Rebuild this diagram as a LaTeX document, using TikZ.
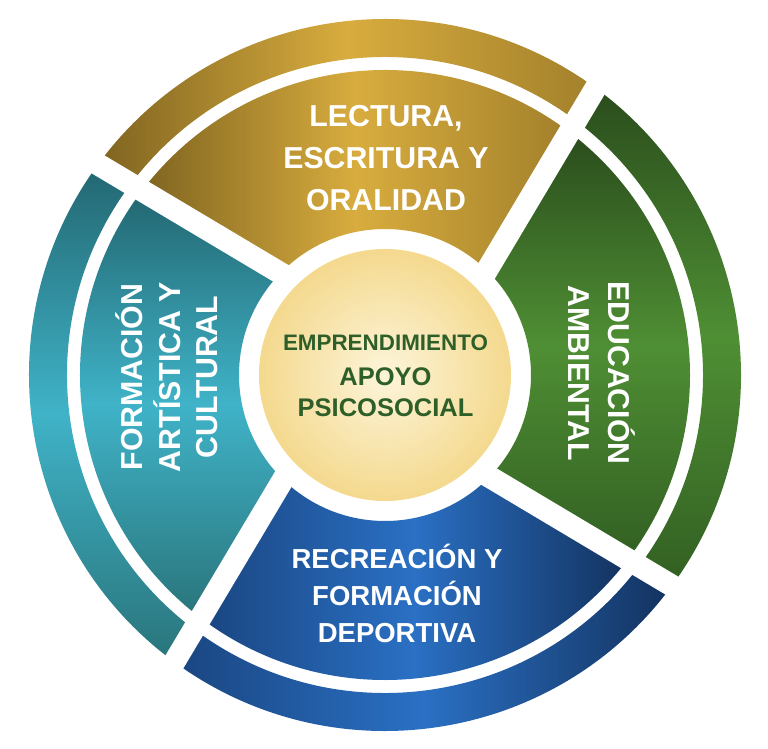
\documentclass[tikz,border=0pt]{standalone}
\usepackage{fontspec}
\setmainfont{Liberation Sans}

\definecolor{GoldDark}{HTML}{7F6420}
\definecolor{GoldLight}{HTML}{D8AC3E}
\definecolor{GoldMid}{HTML}{A2802B}
\definecolor{GreenDark}{HTML}{2A4C1C}
\definecolor{GreenLight}{HTML}{4F8F34}
\definecolor{GreenMid}{HTML}{325F22}
\definecolor{BlueDark}{HTML}{13325E}
\definecolor{BlueLight}{HTML}{2A70C4}
\definecolor{BlueMid}{HTML}{1A4580}
\definecolor{TealDark}{HTML}{226670}
\definecolor{TealLight}{HTML}{40B3C8}
\definecolor{TealMid}{HTML}{29747A}
\definecolor{CreamLight}{HTML}{FDF5DA}
\definecolor{CreamDark}{HTML}{F4D98E}
\definecolor{CenterText}{HTML}{2F5F29}

\newcommand{\gapoff}{34}
% one piece of a ring, cut by two of the swirl lines
\newcommand{\ringpart}[3]{({#1-90+acos(\gapoff/#2)}:#2) -- ({#1-90+acos(\gapoff/#3)}:#3)
  arc[start angle={#1-90+acos(\gapoff/#3)}, end angle={#1+acos(\gapoff/#3)}, radius=#3]
  -- ({#1+acos(\gapoff/#2)}:#2)
  arc[start angle={#1+acos(\gapoff/#2)}, end angle={#1-90+acos(\gapoff/#2)}, radius=#2] -- cycle}

\begin{document}
\begin{tikzpicture}[x=1pt,y=1pt]
\tikzstyle{every node}=[font=\bfseries, text=white]
\tikzstyle{gapline}=[white, line width=22pt]
\tikzstyle{bigtext}=[align=center, font=\fontsize{30.3}{42}\selectfont\bfseries]
\tikzstyle{goldpart}=[left color=GoldDark, right color=GoldMid, middle color=GoldLight]
\tikzstyle{tealpart}=[top color=TealDark, bottom color=TealMid, middle color=TealLight]
\tikzstyle{bluepart}=[left color=BlueMid, right color=BlueDark, middle color=BlueLight]
\tikzstyle{greenpart}=[top color=GreenDark, bottom color=GreenMid, middle color=GreenLight]

\useasboundingbox (-385,-374) rectangle (383,375);
\fill[white] (-385,-374) rectangle (383,375);
\coordinate (Center) at (0,0);

\shade[goldpart] \ringpart{59.2}{318}{356};
\shade[tealpart] \ringpart{149.2}{318}{356};
\shade[bluepart] \ringpart{239.2}{318}{356};
\shade[greenpart] \ringpart{329.2}{318}{356};

\shade[goldpart] \ringpart{59.2}{146}{305};
\shade[tealpart] \ringpart{149.2}{146}{305};
\shade[bluepart] \ringpart{239.2}{146}{305};
\shade[greenpart] \ringpart{329.2}{146}{305};

\foreach \a in {59.2,149.2,239.2,329.2}
  \draw[gapline] ({\a-90+acos(\gapoff/130)}:130) -- ({\a-90+acos(\gapoff/372)}:372);

\shade[inner color=CreamLight, outer color=CreamDark] (Center) circle (126);

\node[bigtext] (LecturaText) at (1,217) {LECTURA,\\ESCRITURA Y\\ORALIDAD};
\node[bigtext, rotate=-90, font=\fontsize{30.2}{40}\selectfont\bfseries] (AmbientalText) at (217,2) {EDUCACIÓN\\AMBIENTAL};
\node[bigtext, rotate=90, font=\fontsize{30.3}{37.5}\selectfont\bfseries] (ArtisticaText) at (-218,-2) {FORMACIÓN\\ARTÍSTICA Y\\CULTURAL};
\node[bigtext, font=\fontsize{27.5}{37}\selectfont\bfseries] (RecreacionText) at (12,-218) {RECREACIÓN Y\\FORMACIÓN\\DEPORTIVA};

\node[text=CenterText, anchor=base, font=\fontsize{22.4}{26}\selectfont\bfseries] (EmprendText) at (0.5,24.3) {EMPRENDIMIENTO};
\node[text=CenterText, align=center, font=\fontsize{25.5}{31.6}\selectfont\bfseries] (ApoyoText) at (0.5,-17.3) {APOYO\\PSICOSOCIAL};
\end{tikzpicture}
\end{document}
